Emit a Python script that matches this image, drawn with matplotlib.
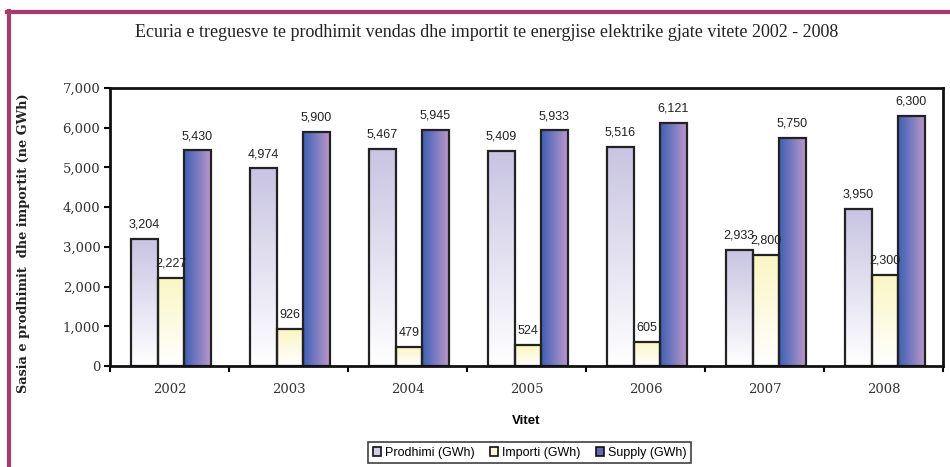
import numpy as np
import matplotlib
matplotlib.use('Agg')
import matplotlib.pyplot as plt
from matplotlib.patches import Patch
from matplotlib.lines import Line2D
from matplotlib.ticker import FuncFormatter, MultipleLocator

years = ['2002', '2003', '2004', '2005', '2006', '2007', '2008']
prodhimi = [3204, 4974, 5467, 5409, 5516, 2933, 3950]
importi = [2227, 926, 479, 524, 605, 2800, 2300]
supply = [5430, 5900, 5945, 5933, 6121, 5750, 6300]

series_names = ['Prodhimi (GWh)', 'Importi (GWh)', 'Supply (GWh)']


def hex2rgb(h):
    h = h.lstrip('#')
    return np.array([int(h[i:i + 2], 16) / 255 for i in (0, 2, 4)])


def gradient_fill(ax, bars, c0, c1, direction):
    # c0 -> c1 : bottom->top for 'v', left->right for 'h'
    a, b = hex2rgb(c0), hex2rgb(c1)
    t = np.linspace(0, 1, 128)
    if direction == 'v':
        arr = (a[None, None, :] * (1 - t[:, None, None]) + b[None, None, :] * t[:, None, None])
    else:
        arr = (a[None, None, :] * (1 - t[None, :, None]) + b[None, None, :] * t[None, :, None])
    for bar in bars:
        x0, y0 = bar.get_x(), bar.get_y()
        w, h = bar.get_width(), bar.get_height()
        im = ax.imshow(arr, extent=[x0, x0 + w, y0, y0 + h], origin='lower',
                       aspect='auto', interpolation='bilinear', zorder=1.5)
        im.set_clip_path(bar)


fig = plt.figure(figsize=(9.5, 4.67), dpi=100)
ax = fig.add_axes([0.1158, 0.2163, 0.8768, 0.5953])

x = np.arange(len(years))
w = 0.223
edge = '#222222'

b1 = ax.bar(x - w + 0.012, prodhimi, w, facecolor='none', edgecolor=edge, linewidth=1.6, zorder=2)
b2 = ax.bar(x + 0.012, importi, w, facecolor='none', edgecolor=edge, linewidth=1.6, zorder=2)
b3 = ax.bar(x + w + 0.012, supply, w, facecolor='none', edgecolor=edge, linewidth=1.6, zorder=2)

gradient_fill(ax, b1, '#FFFFFF', '#C8C4E2', 'v')
gradient_fill(ax, b2, '#FFFFFF', '#FBF6C2', 'v')
gradient_fill(ax, b3, '#3D5FB6', '#BA98CA', 'h')

for bars, vals in [(b1, prodhimi), (b2, importi), (b3, supply)]:
    for bar, v in zip(bars, vals):
        ax.annotate(f'{v:,}', (bar.get_x() + bar.get_width() / 2, v),
                    xytext=(0, 6), textcoords='offset points', ha='center', va='bottom',
                    fontsize=9, family='Liberation Sans', color='#222222', zorder=3)

ax.set_xlim(-0.5, len(years) - 0.5)
ax.set_ylim(0, 7000)
ax.yaxis.set_major_locator(MultipleLocator(1000))
ax.yaxis.set_major_formatter(FuncFormatter(lambda v, p: f'{int(v):,}'))
ax.set_xticks(x)
ax.set_xticklabels(years)
ax.set_xticks(np.arange(-0.5, len(years)), minor=True)
ax.tick_params(axis='x', which='major', length=0, pad=12)
ax.tick_params(axis='x', which='minor', length=4, width=1.5, direction='out')
ax.tick_params(axis='y', length=4, width=1.5, direction='out', pad=3)
ax.tick_params(axis='both', labelsize=9.5, labelcolor='#333333', labelfontfamily='DejaVu Serif')
for s in ax.spines.values():
    s.set_linewidth(2)
    s.set_color('#111111')

ax.set_xlabel('Vitet', fontsize=9.5, fontweight='bold', family='Liberation Sans', labelpad=14)
ax.set_ylabel('Sasia e prodhimit  dhe importit (ne GWh)', fontsize=9.3, fontweight='bold',
              family='DejaVu Serif', color='#222222')
ax.yaxis.set_label_coords(-0.096, 0.44)

fig.text(0.512, 0.931, 'Ecuria e treguesve te prodhimit vendas dhe importit te energjise elektrike gjate vitete 2002 - 2008',
         ha='center', va='center', fontsize=13, family='Liberation Serif', color='#222222')

handles = [Patch(facecolor='#D2CEE8', edgecolor='#111111', linewidth=1.2),
           Patch(facecolor='#FDFAD2', edgecolor='#111111', linewidth=1.2),
           Patch(facecolor='#6466BE', edgecolor='#111111', linewidth=1.2)]
leg = fig.legend(handles, series_names, loc='upper center', bbox_to_anchor=(0.5574, 0.066),
                 ncol=3, frameon=True, fancybox=False, edgecolor='#111111',
                 handlelength=0.7, handleheight=0.7, handletextpad=0.3, columnspacing=1.2,
                 borderpad=0.35, prop={'family': 'Liberation Sans', 'size': 9})
leg.get_frame().set_linewidth(1.2)

border = '#A83A6C'
fig.add_artist(Line2D([0.0075, 1.0], [0.974, 0.974], color=border, linewidth=3, transform=fig.transFigure))
fig.add_artist(Line2D([0.0095, 0.0095], [0.0, 0.976], color=border, linewidth=3, transform=fig.transFigure))

fig.savefig('out.png', dpi=100)
